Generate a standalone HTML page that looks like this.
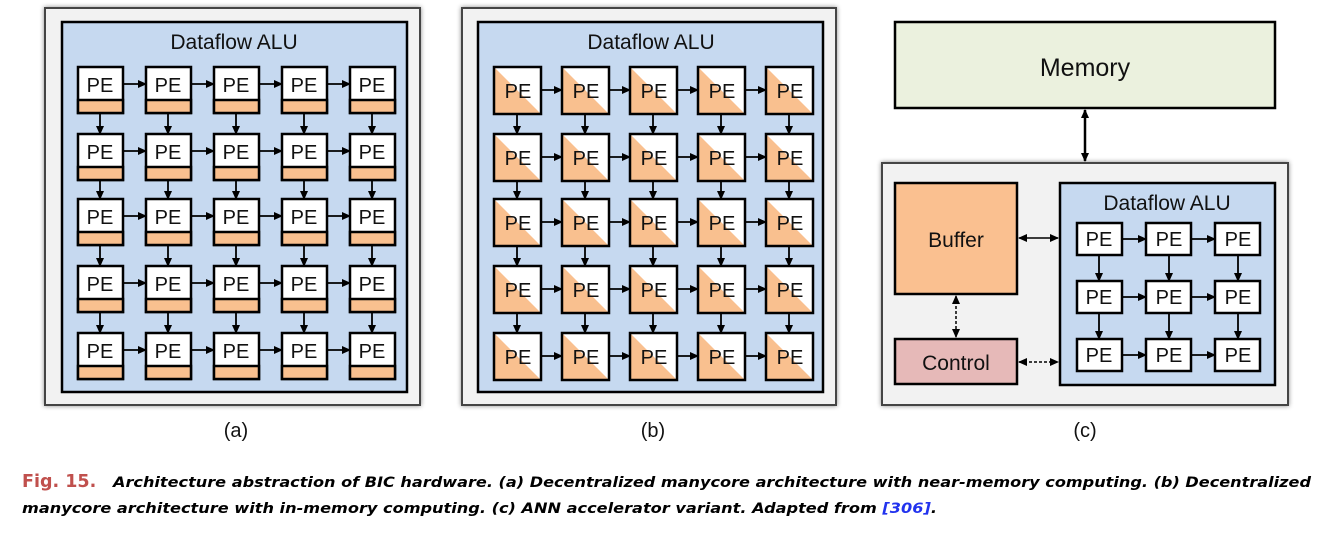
<!DOCTYPE html>
<html><head><meta charset="utf-8"><style>
body{margin:0;background:#fff;width:1322px;height:530px;overflow:hidden}
svg text{font-family:"Liberation Sans",Arial,Helvetica,sans-serif;fill:#111}
.cap{font-family:"DejaVu Sans",sans-serif;font-weight:bold;font-style:italic;font-size:14.5px;fill:#000}
path{fill:none}
</style></head><body>
<svg width="1322" height="530" viewBox="0 0 1322 530" xmlns="http://www.w3.org/2000/svg">
<defs>
<marker id="ah" markerWidth="9" markerHeight="9" refX="8" refY="4.5" orient="auto" markerUnits="userSpaceOnUse"><path d="M0,0.5 L9,4.5 L0,8.5z" style="fill:#000"/></marker>
<marker id="as" markerWidth="9" markerHeight="9" refX="1" refY="4.5" orient="auto" markerUnits="userSpaceOnUse"><path d="M9,0.5 L0,4.5 L9,8.5z" style="fill:#000"/></marker>
<filter id="sh" x="-5%" y="-5%" width="110%" height="110%"><feDropShadow dx="0" dy="0" stdDeviation="2.5" flood-color="#000" flood-opacity="0.45"/></filter>
<g id="pa"><rect x="0" y="0" width="45" height="46" fill="#fff" stroke="#000" stroke-width="2.5"/><rect x="0" y="33" width="45" height="13" fill="#f9c08f" stroke="#000" stroke-width="2.5"/></g>
<g id="pb"><rect x="0" y="0" width="47" height="47" fill="#fff"/><path d="M0,0 L47,47 L0,47z" style="fill:#f9c08f"/><rect x="0" y="0" width="47" height="47" fill="none" stroke="#000" stroke-width="2.5"/></g>
<g id="pc"><rect x="0" y="0" width="45" height="32" fill="#fff" stroke="#000" stroke-width="2.5"/></g>
<path id="ha" d="M0,0H23" stroke="#000" stroke-width="1.8" marker-end="url(#ah)"/>
<path id="va" d="M0,0V21" stroke="#000" stroke-width="1.8" marker-end="url(#ah)"/>
<path id="va2" d="M0,0V19" stroke="#000" stroke-width="1.8" marker-end="url(#ah)"/>
<path id="hb" d="M0,0H21" stroke="#000" stroke-width="1.8" marker-end="url(#ah)"/>
<path id="vb" d="M0,0V20" stroke="#000" stroke-width="1.8" marker-end="url(#ah)"/>
<path id="vb2" d="M0,0V18" stroke="#000" stroke-width="1.8" marker-end="url(#ah)"/>
<path id="hc" d="M0,0H24" stroke="#000" stroke-width="1.8" marker-end="url(#ah)"/>
<path id="vc" d="M0,0V26" stroke="#000" stroke-width="1.8" marker-end="url(#ah)"/>
<g id="rowa"><use href="#ha" x="123"/><use href="#ha" x="191"/><use href="#ha" x="259"/><use href="#ha" x="327"/></g>
<g id="cola"><use href="#va" x="100"/><use href="#va" x="168"/><use href="#va" x="236"/><use href="#va" x="304"/><use href="#va" x="372"/></g>
<g id="cola2"><use href="#va2" x="100"/><use href="#va2" x="168"/><use href="#va2" x="236"/><use href="#va2" x="304"/><use href="#va2" x="372"/></g>
<g id="rowb"><use href="#hb" x="541"/><use href="#hb" x="609"/><use href="#hb" x="677"/><use href="#hb" x="745"/></g>
<g id="colb"><use href="#vb" x="517"/><use href="#vb" x="585"/><use href="#vb" x="653"/><use href="#vb" x="721"/><use href="#vb" x="789"/></g>
<g id="colb2"><use href="#vb2" x="517"/><use href="#vb2" x="585"/><use href="#vb2" x="653"/><use href="#vb2" x="721"/><use href="#vb2" x="789"/></g>
</defs>

<!-- Panel a -->
<rect x="45" y="8" width="375" height="397" fill="#f2f2f2" stroke="#444" stroke-width="2" filter="url(#sh)"/>
<rect x="62" y="22" width="345" height="370" fill="#c6d9f0" stroke="#000" stroke-width="2.5"/>
<text x="234" y="49" font-size="21" text-anchor="middle">Dataflow ALU</text>
<use href="#rowa" y="84"/><use href="#rowa" y="151"/><use href="#rowa" y="216"/><use href="#rowa" y="283"/><use href="#rowa" y="350"/>
<use href="#cola" y="113"/><use href="#cola2" y="180"/><use href="#cola" y="245"/><use href="#cola" y="312"/>
<use href="#pa" x="78" y="67"/><use href="#pa" x="146" y="67"/><use href="#pa" x="214" y="67"/><use href="#pa" x="282" y="67"/><use href="#pa" x="350" y="67"/>
<use href="#pa" x="78" y="134"/><use href="#pa" x="146" y="134"/><use href="#pa" x="214" y="134"/><use href="#pa" x="282" y="134"/><use href="#pa" x="350" y="134"/>
<use href="#pa" x="78" y="199"/><use href="#pa" x="146" y="199"/><use href="#pa" x="214" y="199"/><use href="#pa" x="282" y="199"/><use href="#pa" x="350" y="199"/>
<use href="#pa" x="78" y="266"/><use href="#pa" x="146" y="266"/><use href="#pa" x="214" y="266"/><use href="#pa" x="282" y="266"/><use href="#pa" x="350" y="266"/>
<use href="#pa" x="78" y="333"/><use href="#pa" x="146" y="333"/><use href="#pa" x="214" y="333"/><use href="#pa" x="282" y="333"/><use href="#pa" x="350" y="333"/>
<g font-size="20" text-anchor="middle">
<text x="100" y="92">PE</text><text x="168" y="92">PE</text><text x="236" y="92">PE</text><text x="304" y="92">PE</text><text x="372" y="92">PE</text>
<text x="100" y="159">PE</text><text x="168" y="159">PE</text><text x="236" y="159">PE</text><text x="304" y="159">PE</text><text x="372" y="159">PE</text>
<text x="100" y="224">PE</text><text x="168" y="224">PE</text><text x="236" y="224">PE</text><text x="304" y="224">PE</text><text x="372" y="224">PE</text>
<text x="100" y="291">PE</text><text x="168" y="291">PE</text><text x="236" y="291">PE</text><text x="304" y="291">PE</text><text x="372" y="291">PE</text>
<text x="100" y="358">PE</text><text x="168" y="358">PE</text><text x="236" y="358">PE</text><text x="304" y="358">PE</text><text x="372" y="358">PE</text>
</g>
<text x="236" y="437" font-size="20" text-anchor="middle">(a)</text>

<!-- Panel b -->
<rect x="462" y="8" width="374" height="397" fill="#f2f2f2" stroke="#444" stroke-width="2" filter="url(#sh)"/>
<rect x="478" y="22" width="345" height="370" fill="#c6d9f0" stroke="#000" stroke-width="2.5"/>
<text x="651" y="49" font-size="21" text-anchor="middle">Dataflow ALU</text>
<use href="#rowb" y="90"/><use href="#rowb" y="157"/><use href="#rowb" y="222"/><use href="#rowb" y="289"/><use href="#rowb" y="356"/>
<use href="#colb" y="114"/><use href="#colb2" y="181"/><use href="#colb" y="246"/><use href="#colb" y="313"/>
<use href="#pb" x="494" y="67"/><use href="#pb" x="562" y="67"/><use href="#pb" x="630" y="67"/><use href="#pb" x="698" y="67"/><use href="#pb" x="766" y="67"/>
<use href="#pb" x="494" y="134"/><use href="#pb" x="562" y="134"/><use href="#pb" x="630" y="134"/><use href="#pb" x="698" y="134"/><use href="#pb" x="766" y="134"/>
<use href="#pb" x="494" y="199"/><use href="#pb" x="562" y="199"/><use href="#pb" x="630" y="199"/><use href="#pb" x="698" y="199"/><use href="#pb" x="766" y="199"/>
<use href="#pb" x="494" y="266"/><use href="#pb" x="562" y="266"/><use href="#pb" x="630" y="266"/><use href="#pb" x="698" y="266"/><use href="#pb" x="766" y="266"/>
<use href="#pb" x="494" y="333"/><use href="#pb" x="562" y="333"/><use href="#pb" x="630" y="333"/><use href="#pb" x="698" y="333"/><use href="#pb" x="766" y="333"/>
<g font-size="20" text-anchor="middle">
<text x="518" y="98">PE</text><text x="586" y="98">PE</text><text x="654" y="98">PE</text><text x="722" y="98">PE</text><text x="790" y="98">PE</text>
<text x="518" y="165">PE</text><text x="586" y="165">PE</text><text x="654" y="165">PE</text><text x="722" y="165">PE</text><text x="790" y="165">PE</text>
<text x="518" y="230">PE</text><text x="586" y="230">PE</text><text x="654" y="230">PE</text><text x="722" y="230">PE</text><text x="790" y="230">PE</text>
<text x="518" y="297">PE</text><text x="586" y="297">PE</text><text x="654" y="297">PE</text><text x="722" y="297">PE</text><text x="790" y="297">PE</text>
<text x="518" y="364">PE</text><text x="586" y="364">PE</text><text x="654" y="364">PE</text><text x="722" y="364">PE</text><text x="790" y="364">PE</text>
</g>
<text x="653" y="437" font-size="20" text-anchor="middle">(b)</text>

<!-- Panel c -->
<rect x="895" y="22" width="380" height="86" fill="#ebf1de" stroke="#000" stroke-width="2.5"/>
<text x="1085" y="76" font-size="25" text-anchor="middle">Memory</text>
<path d="M1085,110V161" stroke="#000" stroke-width="2.5" marker-end="url(#ah)" marker-start="url(#as)"/>
<rect x="882" y="163" width="406" height="242" fill="#f2f2f2" stroke="#444" stroke-width="2" filter="url(#sh)"/>
<rect x="895" y="183" width="122" height="111" fill="#fac090" stroke="#000" stroke-width="2.5"/>
<text x="956" y="247" font-size="21" text-anchor="middle">Buffer</text>
<rect x="895" y="339" width="122" height="45" fill="#e6b9b8" stroke="#000" stroke-width="2.5"/>
<text x="956" y="370" font-size="21" text-anchor="middle">Control</text>
<rect x="1060" y="183" width="215" height="202" fill="#c6d9f0" stroke="#000" stroke-width="2.5"/>
<text x="1167" y="210" font-size="21" text-anchor="middle">Dataflow ALU</text>
<path d="M1019,238H1058" stroke="#000" stroke-width="1.5" marker-end="url(#ah)" marker-start="url(#as)"/>
<path d="M956,296V337" stroke="#000" stroke-width="1.5" stroke-dasharray="3,2" marker-end="url(#ah)" marker-start="url(#as)"/>
<path d="M1019,362H1058" stroke="#000" stroke-width="1.5" stroke-dasharray="3,2" marker-end="url(#ah)" marker-start="url(#as)"/>
<use href="#hc" x="1122" y="239"/><use href="#hc" x="1191" y="239"/>
<use href="#hc" x="1122" y="297"/><use href="#hc" x="1191" y="297"/>
<use href="#hc" x="1122" y="355"/><use href="#hc" x="1191" y="355"/>
<use href="#vc" x="1099" y="255"/><use href="#vc" x="1169" y="255"/><use href="#vc" x="1238" y="255"/>
<use href="#vc" x="1099" y="313"/><use href="#vc" x="1169" y="313"/><use href="#vc" x="1238" y="313"/>
<use href="#pc" x="1077" y="223"/><use href="#pc" x="1146" y="223"/><use href="#pc" x="1215" y="223"/>
<use href="#pc" x="1077" y="281"/><use href="#pc" x="1146" y="281"/><use href="#pc" x="1215" y="281"/>
<use href="#pc" x="1077" y="339"/><use href="#pc" x="1146" y="339"/><use href="#pc" x="1215" y="339"/>
<g font-size="20" text-anchor="middle">
<text x="1099" y="246">PE</text><text x="1169" y="246">PE</text><text x="1238" y="246">PE</text>
<text x="1099" y="304">PE</text><text x="1169" y="304">PE</text><text x="1238" y="304">PE</text>
<text x="1099" y="362">PE</text><text x="1169" y="362">PE</text><text x="1238" y="362">PE</text>
</g>
<text x="1085" y="437" font-size="20" text-anchor="middle">(c)</text>

<!-- Caption -->
<text x="22" y="487" style="font-family:'DejaVu Sans',sans-serif;font-weight:bold;font-size:17.5px;fill:#c0504d">Fig. 15.</text>
<text class="cap" x="113" y="487" textLength="1198" lengthAdjust="spacingAndGlyphs">Architecture abstraction of BIC hardware. (a) Decentralized manycore architecture with near-memory computing. (b) Decentralized</text>
<text class="cap" x="22" y="513" textLength="915" lengthAdjust="spacingAndGlyphs">manycore architecture with in-memory computing. (c) ANN accelerator variant. Adapted from <tspan style="fill:#2233ee">[306]</tspan>.</text>
</svg>
</body></html>
